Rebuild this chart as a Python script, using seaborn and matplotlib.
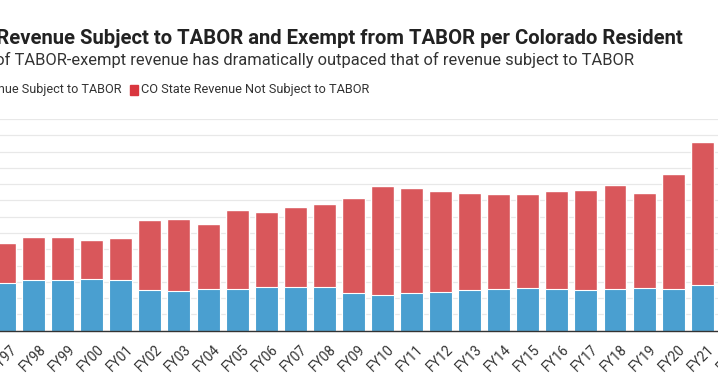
"""Colorado state revenue per resident, subject to TABOR vs. exempt (stacked bars)."""

import numpy as np
import pandas as pd
import matplotlib
matplotlib.use("Agg")
import matplotlib.pyplot as plt
import matplotlib.transforms as mtrans
import seaborn as sb

years = ["FY97", "FY98", "FY99", "FY00", "FY01", "FY02", "FY03", "FY04", "FY05",
         "FY06", "FY07", "FY08", "FY09", "FY10", "FY11", "FY12", "FY13", "FY14",
         "FY15", "FY16", "FY17", "FY18", "FY19", "FY20", "FY21"]
tick_labels = years + ["FY22"]

# dollars per resident
subject = [1463, 1546, 1564, 1595, 1546, 1258, 1218, 1288, 1288, 1340, 1340, 1340,
           1156, 1086, 1147, 1196, 1248, 1270, 1300, 1288, 1248, 1270, 1300, 1288, 1402]
total = [2699, 2883, 2865, 2782, 2834, 3405, 3426, 3264, 3711, 3650, 3785, 3877,
         4061, 4429, 4386, 4285, 4214, 4202, 4193, 4285, 4306, 4460, 4214, 4797, 5809]
not_subject = [t - s for t, s in zip(total, subject)]

BLUE = "#4a9fd0"
RED = "#d9575b"

df = pd.DataFrame({"year": years, "subject": subject, "not_subject": not_subject})
df["total"] = df["subject"] + df["not_subject"]

sb.set_style("white")
plt.rcParams["font.family"] = ["Roboto", "DejaVu Sans"]

fig = plt.figure(figsize=(7.18, 3.77), dpi=100)

# axes runs past the canvas edges, the reference is a crop of a wider chart
left_px, right_px = -12.9, 742.9
base_px, top_px = 330.7, 119.0
ax = fig.add_axes([left_px / 718, (377 - base_px) / 377,
                   (right_px - left_px) / 718, (base_px - top_px) / 377])

sb.barplot(data=df, x="year", y="total", order=tick_labels, color=RED,
           width=0.79, saturation=1, ax=ax)
sb.barplot(data=df, x="year", y="subject", order=tick_labels, color=BLUE,
           width=0.79, saturation=1, ax=ax, edgecolor="white", linewidth=0.8)

ax.set_xlim(-0.6, 25.4)
ax.set_ylim(0, 6500)
ax.set_yticks(np.arange(0, 6501, 500))
ax.yaxis.grid(True, color="#e8e8e8", linewidth=0.9)
ax.set_axisbelow(True)
ax.set_yticklabels([])
ax.tick_params(axis="y", length=0)
ax.set_xlabel("")
ax.set_ylabel("")
for side in ["top", "right", "left"]:
    ax.spines[side].set_visible(False)
ax.spines["bottom"].set_color("#333333")
ax.spines["bottom"].set_linewidth(1.0)
ax.tick_params(axis="x", length=5, width=1, color="#333333", pad=3,
               labelsize=9.8, labelcolor="#333333")
shift = mtrans.ScaledTranslation(0.05, 0, fig.dpi_scale_trans)
for lbl in ax.get_xticklabels():
    lbl.set_rotation(45)
    lbl.set_ha("right")
    lbl.set_rotation_mode("anchor")
    lbl.set_transform(lbl.get_transform() + shift)

# titles and legend, right-aligned so the cut-off left part falls off canvas
fig.text(683 / 718, 1 - 38 / 377, "CO State Revenue Subject to TABOR and Exempt from TABOR per Colorado Resident",
         ha="right", va="center", fontsize=14.6, fontweight="bold", color="#222222")
fig.text(634 / 718, 1 - 60 / 377, "Growth of TABOR-exempt revenue has dramatically outpaced that of revenue subject to TABOR",
         ha="right", va="center", fontsize=11.9, color="#333333")
fig.text(122 / 718, 1 - 90 / 377, "CO State Revenue Subject to TABOR",
         ha="right", va="center", fontsize=9.1, color="#333333")
fig.patches.append(plt.Rectangle((130 / 718, 1 - 95 / 377), 8 / 718, 10 / 377,
                                 transform=fig.transFigure, color="#d9363e", figure=fig))
fig.text(141 / 718, 1 - 90 / 377, "CO State Revenue Not Subject to TABOR",
         ha="left", va="center", fontsize=9.2, color="#333333")

fig.savefig("out.png", dpi=100)
